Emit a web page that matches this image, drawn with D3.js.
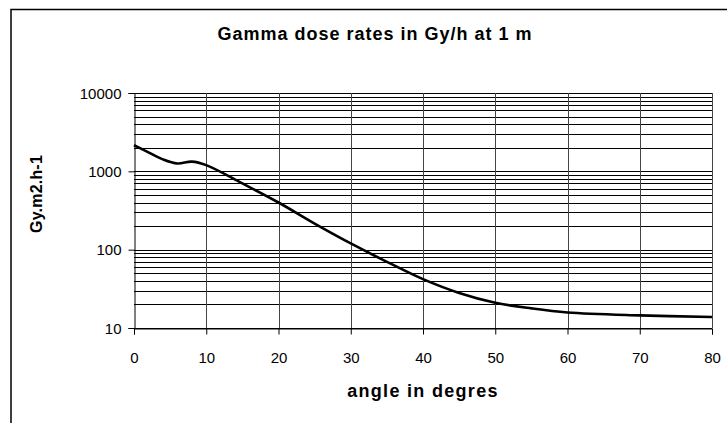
<!DOCTYPE html>
<html>
<head>
<meta charset="utf-8">
<script src="https://cdn.jsdelivr.net/npm/d3@7"></script>
<style>
body { margin: 0; background: #fff; }
svg { font-family: "Liberation Sans", Arial, sans-serif; }
</style>
</head>
<body>
<script>
// data
var angles = [0, 2, 4, 6, 8, 10, 15, 20, 25, 30, 35, 40, 45, 50, 55, 60, 70, 80];
var doses = [2150, 1750, 1420, 1260, 1330, 1200, 700, 400, 215, 120, 70, 42, 28, 21, 17.8, 15.8, 14.5, 13.8];
var xTicks = [0, 10, 20, 30, 40, 50, 60, 70, 80];
var yTicks = [10, 100, 1000, 10000];

var W = 727, H = 423;
var margin = { top: 93, right: 15, bottom: 95, left: 134 };
var width = 712 - margin.left, height = 328 - margin.top;

var svg = d3.select("body").append("svg").attr("width", W).attr("height", H);

// outer chart frame (runs off the page right and bottom)
svg.append("rect").attr("x", 11).attr("y", 9.5).attr("width", 740).attr("height", 440)
	.attr("fill", "none").attr("stroke", "#000").attr("stroke-width", 1.5);

var x = d3.scaleLinear().domain([0, 80]).range([0, width]);
var y = d3.scaleLog().domain([10, 10000]).range([height, 0]);

var g = svg.append("g").attr("transform", "translate(" + margin.left + "," + margin.top + ")");

// minor + major horizontal gridlines
var hLines = [];
yTicks.forEach(function(d, i) {
	if (i < yTicks.length - 1) {
		for (var k = 1; k < 10; k++) hLines.push(d * k);
	}
});
hLines.push(10000);

g.selectAll(".hgrid").data(hLines).enter().append("line")
	.attr("class", "hgrid")
	.attr("x1", 0).attr("x2", width)
	.attr("y1", function(d) { return Math.round(y(d)) + 0.5; })
	.attr("y2", function(d) { return Math.round(y(d)) + 0.5; })
	.attr("stroke", "#000").attr("stroke-width", 1);

g.selectAll(".vgrid").data(xTicks.slice(1)).enter().append("line")
	.attr("class", "vgrid")
	.attr("x1", function(d) { return Math.round(x(d)) + 0.5; })
	.attr("x2", function(d) { return Math.round(x(d)) + 0.5; })
	.attr("y1", 0).attr("y2", height)
	.attr("stroke", "#444").attr("stroke-width", 1);

// axes
var xAxis = d3.axisBottom(x).tickValues(xTicks).tickSize(6).tickPadding(18).tickFormat(d3.format("d"));
var yAxis = d3.axisLeft(y).tickValues(yTicks).tickSize(6).tickPadding(7).tickFormat(d3.format("d"));

var gx = g.append("g").attr("transform", "translate(0," + (height + 0.5) + ")").call(xAxis);
var gy = g.append("g").attr("transform", "translate(0.5,0)").call(yAxis);
[gx, gy].forEach(function(a) {
	a.select(".domain").attr("stroke", "#000");
	a.selectAll(".tick line").attr("stroke", "#000");
	a.selectAll("text").attr("font-size", 15).attr("fill", "#000")
		.attr("font-family", "Liberation Sans, Arial, sans-serif");
});
gy.selectAll("text").attr("dy", "0.34em");

// the curve
var line = d3.line()
	.x(function(d, i) { return x(angles[i]); })
	.y(function(d) { return y(d); })
	.curve(d3.curveCatmullRom.alpha(0.5));

g.append("path").datum(doses).attr("d", line)
	.attr("fill", "none").attr("stroke", "#000").attr("stroke-width", 2.6)
	.attr("stroke-linejoin", "round");

// titles
svg.append("text").attr("x", 375).attr("y", 40).attr("text-anchor", "middle")
	.attr("font-size", 18).attr("font-weight", "bold").attr("letter-spacing", 1)
	.text("Gamma dose rates in Gy/h at 1 m");

svg.append("text").attr("x", margin.left + width / 2).attr("y", 397).attr("text-anchor", "middle")
	.attr("font-size", 18).attr("font-weight", "bold").attr("letter-spacing", 1.3)
	.text("angle in degres");

svg.append("text").attr("transform", "translate(42,194) rotate(-90)")
	.attr("text-anchor", "middle").attr("font-size", 16).attr("font-weight", "bold")
	.attr("letter-spacing", 0.2)
	.text("Gy.m2.h-1");
</script>
</body>
</html>
